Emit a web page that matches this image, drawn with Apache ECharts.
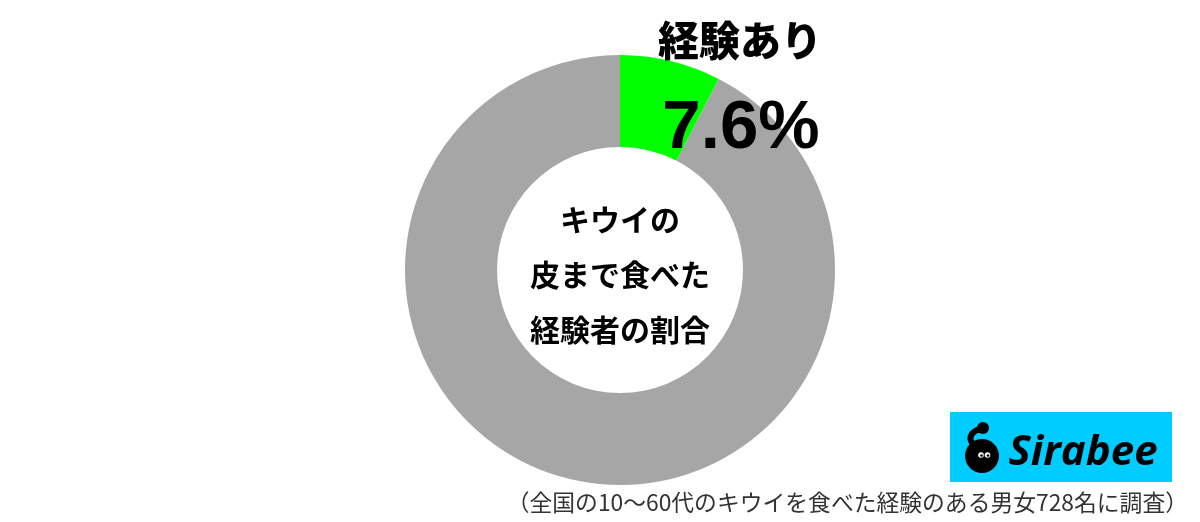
<!DOCTYPE html>
<html><head><meta charset="utf-8">
<script src="https://cdn.jsdelivr.net/npm/echarts@6/dist/echarts.min.js"></script>
<style>html,body{margin:0;padding:0;background:#fff}#c{width:1200px;height:522px}</style>
</head><body><div id="c"></div>
<script>
const categories = ['経験あり', '経験なし'];
const values = [7.6, 92.4];
const colors = ['#00ff00', '#a6a6a6'];
const centerLines = ['キウイの', '皮まで食べた', '経験者の割合'];
const footnote = '（全国の10～60代のキウイを食べた経験のある男女728名に調査）';
const brand = 'Sirabee';

const chart = echarts.init(document.getElementById('c'), null, {renderer: 'canvas'});
const jp = '"Noto Sans CJK JP", "Noto Sans", sans-serif';
chart.setOption({
  animation: false,
  backgroundColor: '#fff',
  series: [{
    type: 'pie',
    center: [620, 270],
    radius: [123, 215],
    startAngle: 90,
    clockwise: true,
    silent: true,
    label: {show: false},
    labelLine: {show: false},
    itemStyle: {borderWidth: 0},
    data: categories.map((c, i) => ({name: c, value: values[i], itemStyle: {color: colors[i]}}))
  }],
  graphic: {
    elements: [
    {type: 'text', z: 100, x: 740, y: 40, style: {text: categories[0], font: `900 41px ${jp}`, fill: '#000', align: 'center', verticalAlign: 'middle'}},
    {type: 'text', z: 100, x: 741, y: 129, style: {text: values[0].toFixed(1) + '%', font: 'bold 69px "Liberation Sans", Arial, sans-serif', fill: '#000', align: 'center', verticalAlign: 'middle'}},
    ...centerLines.map((t, i) => ({
      type: 'text', z: 100, x: 620, y: 220 + i * 55,
      style: {text: t, font: `bold 30px ${jp}`, fill: '#000', align: 'center', verticalAlign: 'middle'}
    })),
    {type: 'text', z: 100, x: 1188, y: 502, style: {text: footnote, font: `22.8px ${jp}`, fill: '#333', align: 'right', verticalAlign: 'middle'}},
    {type: 'rect', z: 100, shape: {x: 950, y: 412, width: 222, height: 70}, style: {fill: '#00ccff'}},
    {type: 'circle', z: 101, shape: {cx: 982, cy: 456, r: 17}, style: {fill: '#000'}},
    {type: 'circle', z: 101, shape: {cx: 983, cy: 428, r: 6}, style: {fill: '#000'}},
    {type: 'bezierCurve', z: 101, shape: {x1: 983, y1: 428, cpx1: 968, cpy1: 432, cpx2: 968, cpy2: 440, x2: 975, y2: 446}, style: {fill: null, stroke: '#000', lineWidth: 6}},
    {type: 'circle', z: 102, shape: {cx: 981, cy: 455, r: 2.8}, style: {fill: '#fff'}},
    {type: 'circle', z: 102, shape: {cx: 987.5, cy: 455, r: 2.8}, style: {fill: '#fff'}},
    {type: 'circle', z: 103, shape: {cx: 981.5, cy: 455.5, r: 1.3}, style: {fill: '#000'}},
    {type: 'circle', z: 103, shape: {cx: 988, cy: 455.5, r: 1.3}, style: {fill: '#000'}},
    {type: 'text', z: 101, x: 1083, y: 453, style: {text: brand, font: 'italic bold 42px "Open Sans", "Liberation Sans", sans-serif', fill: '#000', align: 'center', verticalAlign: 'middle'}}
    ]
  }
});
</script></body></html>
